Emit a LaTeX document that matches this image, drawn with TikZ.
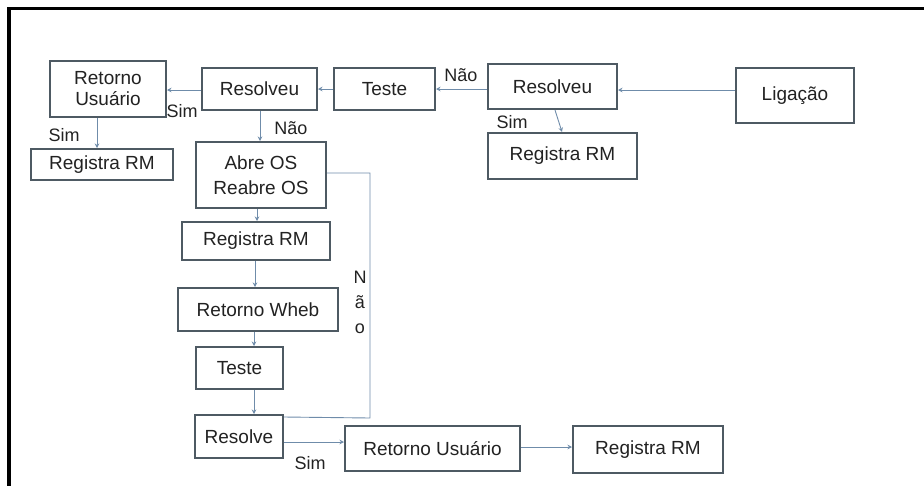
\documentclass[tikz,border=0pt]{standalone}
\usepackage{fontspec}
\setmainfont{Liberation Sans}
\usetikzlibrary{arrows.meta}
\definecolor{boxline}{HTML}{4E5A63}
\definecolor{conn}{HTML}{6F8CAA}
\definecolor{txt}{HTML}{222222}
\tikzset{
  box/.style={draw=boxline, line width=2pt, fill=white, inner sep=0pt, text=txt,
    align=center, font=\fontsize{19}{23}\selectfont},
  connector/.style={draw=conn, line width=0.9pt, -{Stealth[length=4.5pt,width=4.5pt]}},
  plainline/.style={draw=conn, line width=0.9pt},
  lbl/.style={text=txt, inner sep=0pt, font=\fontsize{18}{22}\selectfont}
}
\begin{document}
\begin{tikzpicture}[x=1pt,y=-1pt]
\useasboundingbox (0,0) rectangle (924,485);
% frame
\draw[line width=3.5pt, line join=miter] (9,486) -- (9,8.5) -- (925,8.5);

% boxes
\node[box, minimum width=118pt, minimum height=55pt] (lig) at (795,95.5) {Ligação};
\node[box, minimum width=129pt, minimum height=45pt] (res1) at (552.5,86.5) {Resolveu};
\node[box, minimum width=149pt, minimum height=46pt] (reg1) at (562.5,156) {Registra RM};
\node[box, minimum width=101pt, minimum height=42pt] (teste1) at (384.5,89) {Teste};
\node[box, minimum width=115pt, minimum height=42pt] (res2) at (259.5,89) {Resolveu};
\node[box, minimum width=116pt, minimum height=56pt, font=\fontsize{19}{21}\selectfont] (ret1) at (108,89) {Retorno\\Usuário};
\node[box, minimum width=142pt, minimum height=31pt] (reg2) at (102,164.5) {Registra RM};
\node[box, minimum width=130pt, minimum height=66pt, font=\fontsize{19}{25}\selectfont] (abre) at (261,175) {Abre OS\\Reabre OS};
\node[box, minimum width=148pt, minimum height=38pt] (reg3) at (256,241) {Registra RM};
\node[box, minimum width=160pt, minimum height=43pt] (wheb) at (258,309.5) {Retorno Wheb};
\node[box, minimum width=87pt, minimum height=42pt] (teste2) at (239.5,368) {Teste};
\node[box, minimum width=88pt, minimum height=43pt] (resolve) at (239,436.5) {Resolve};
\node[box, minimum width=175pt, minimum height=45pt] (ret2) at (432.5,448.5) {Retorno Usuário};
\node[box, minimum width=150pt, minimum height=47pt] (reg4) at (648,449.5) {Registra RM};

% connectors
\draw[connector] (lig.west |- 0,90) -- (res1.east |- 0,90);
\draw[connector] (res1.west |- 0,89) -- (teste1.east |- 0,89);
\draw[connector] (teste1.west |- 0,89) -- (res2.east |- 0,89);
\draw[connector] (res2.west |- 0,90) -- (ret1.east |- 0,90);
\draw[connector] (ret1.south -| 97,0) -- (reg2.north -| 97,0);
\draw[connector] (res2.south -| 260,0) -- (abre.north -| 260,0);
\draw[connector] (res1.south -| 555,0) -- (reg1.north -| 562,0);
\draw[connector] (abre.south -| 257,0) -- (reg3.north -| 257,0);
\draw[connector] (reg3.south -| 255,0) -- (wheb.north -| 255,0);
\draw[connector] (wheb.south -| 254,0) -- (teste2.north -| 254,0);
\draw[connector] (teste2.south -| 254,0) -- (resolve.north -| 254,0);
\draw[connector] (resolve.east |- 0,442) -- (ret2.west |- 0,442);
\draw[connector] (ret2.east |- 0,447) -- (reg4.west |- 0,447);
\coordinate (loopbot) at (370,418);
\coordinate (looptop) at (370,173);
\draw[plainline] (resolve.east |- 0,417) -- (loopbot) -- (looptop) -- (abre.east |- looptop);

% labels
\node[lbl] (l1) at (461,75) {Não};
\node[lbl] (l2) at (182,111) {Sim};
\node[lbl] (l3) at (64,135) {Sim};
\node[lbl] (l4) at (291,128) {Não};
\node[lbl] (l5) at (512,122) {Sim};
\node[lbl] (l6) at (310,463) {Sim};
\node[lbl, align=center, font=\fontsize{18}{25}\selectfont] (l7) at (360,302) {N\\ã\\o};
\end{tikzpicture}
\end{document}
